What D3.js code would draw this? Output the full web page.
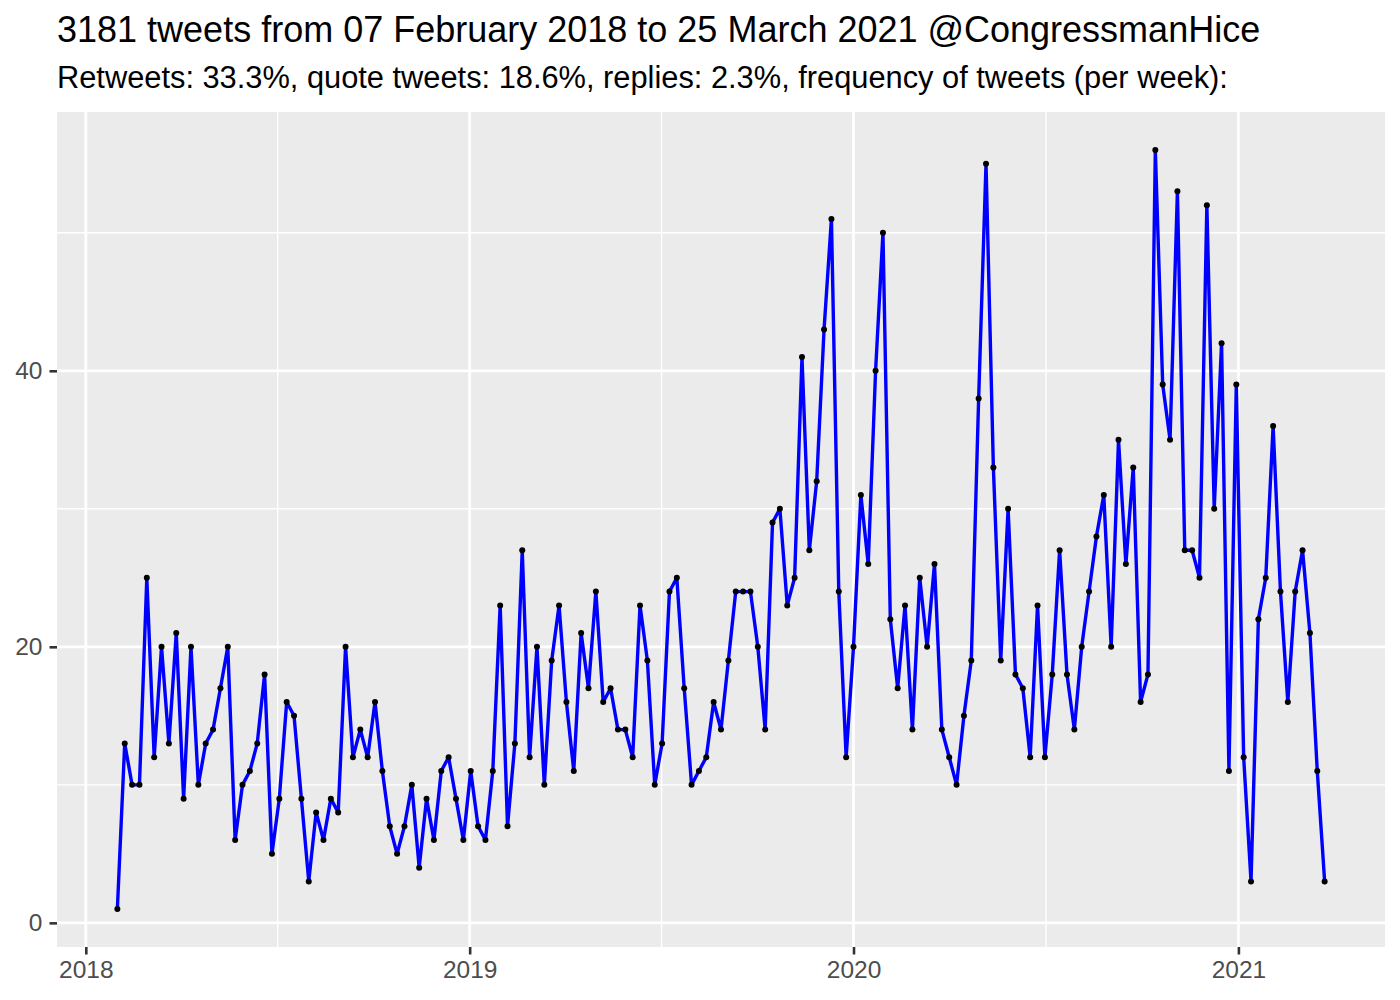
<!DOCTYPE html>
<html>
<head>
<meta charset="utf-8">
<script src="https://cdn.jsdelivr.net/npm/d3@7"></script>
<style>
  html, body { margin: 0; padding: 0; background: #ffffff; }
  svg { display: block; }
  text { font-family: "Liberation Sans", Arial, Helvetica, sans-serif; }
</style>
</head>
<body>
<svg id="chart" width="1400" height="1000"></svg>
<script>
// ---- data ----
const titleText = "3181 tweets from 07 February 2018 to 25 March 2021 @CongressmanHice";
const subtitleText = "Retweets: 33.3%, quote tweets: 18.6%, replies: 2.3%, frequency of tweets (per week):";
const firstWeek = "2018-01-31";
const weeklyCounts = [
  1, 13, 10, 10, 25, 12, 20, 13, 21, 9,
  20, 10, 13, 14, 17, 20, 6, 10, 11, 13,
  18, 5, 9, 16, 15, 9, 3, 8, 6, 9,
  8, 20, 12, 14, 12, 16, 11, 7, 5, 7,
  10, 4, 9, 6, 11, 12, 9, 6, 11, 7,
  6, 11, 23, 7, 13, 27, 12, 20, 10, 19,
  23, 16, 11, 21, 17, 24, 16, 17, 14, 14,
  12, 23, 19, 10, 13, 24, 25, 17, 10, 11,
  12, 16, 14, 19, 24, 24, 24, 20, 14, 29,
  30, 23, 25, 41, 27, 32, 43, 51, 24, 12,
  20, 31, 26, 40, 50, 22, 17, 23, 14, 25,
  20, 26, 14, 12, 10, 15, 19, 38, 55, 33,
  19, 30, 18, 17, 12, 23, 12, 18, 27, 18,
  14, 20, 24, 28, 31, 20, 35, 26, 33, 16,
  18, 56, 39, 35, 53, 27, 27, 25, 52, 30,
  42, 11, 39, 12, 3, 22, 25, 36, 24, 16,
  24, 27, 21, 11, 3
];
const yTicks = [0, 20, 40];
const yMinorTicks = [10, 30, 50];
const xTickYears = ["2018", "2019", "2020", "2021"];

// ---- build ----
const parse = d3.utcParse("%Y-%m-%d");
const start = parse(firstWeek);
const data = weeklyCounts.map((v, i) => ({ date: d3.utcDay.offset(start, 7 * i), value: v }));

const panel = { left: 57, right: 1385, top: 112, bottom: 947 };

const xExt = d3.extent(data, d => d.date);
const xSpan = xExt[1] - xExt[0];
const x = d3.scaleUtc()
  .domain([new Date(+xExt[0] - 0.05 * xSpan), new Date(+xExt[1] + 0.05 * xSpan)])
  .range([panel.left, panel.right]);

const yExt = d3.extent(data, d => d.value);
const ySpan = yExt[1] - yExt[0];
const y = d3.scaleLinear()
  .domain([yExt[0] - 0.05 * ySpan, yExt[1] + 0.05 * ySpan])
  .range([panel.bottom, panel.top]);

const svg = d3.select("#chart");

svg.append("text")
  .attr("x", 57).attr("y", 42)
  .attr("font-size", 36).attr("fill", "#000")
  .text(titleText);

svg.append("text")
  .attr("x", 57).attr("y", 88)
  .attr("font-size", 30.8).attr("fill", "#000")
  .text(subtitleText);

// panel background
svg.append("rect")
  .attr("x", panel.left).attr("y", panel.top)
  .attr("width", panel.right - panel.left).attr("height", panel.bottom - panel.top)
  .attr("fill", "#EBEBEB");

const xMajor = xTickYears.map(s => d3.utcParse("%Y")(s));
const xMinor = d3.pairs(xMajor).map(([a, b]) => new Date((+a + +b) / 2));

const grid = svg.append("g");
// minor grid
grid.selectAll("line.ymin").data(yMinorTicks).join("line")
  .attr("x1", panel.left).attr("x2", panel.right)
  .attr("y1", d => y(d)).attr("y2", d => y(d))
  .attr("stroke", "#fff").attr("stroke-width", 1.4);
grid.selectAll("line.xmin").data(xMinor).join("line")
  .attr("y1", panel.top).attr("y2", panel.bottom)
  .attr("x1", d => x(d)).attr("x2", d => x(d))
  .attr("stroke", "#fff").attr("stroke-width", 1.4);
// major grid
grid.selectAll("line.ymaj").data(yTicks).join("line")
  .attr("x1", panel.left).attr("x2", panel.right)
  .attr("y1", d => y(d)).attr("y2", d => y(d))
  .attr("stroke", "#fff").attr("stroke-width", 2.8);
grid.selectAll("line.xmaj").data(xMajor).join("line")
  .attr("y1", panel.top).attr("y2", panel.bottom)
  .attr("x1", d => x(d)).attr("x2", d => x(d))
  .attr("stroke", "#fff").attr("stroke-width", 2.8);

// axes
const yAxis = d3.axisLeft(y).tickValues(yTicks).tickSize(7.5).tickPadding(7);
const gy = svg.append("g").attr("transform", `translate(${panel.left},0)`).call(yAxis);
gy.select(".domain").remove();
gy.selectAll(".tick line").attr("stroke", "#333333").attr("stroke-width", 2.6);
gy.selectAll(".tick text").attr("fill", "#4D4D4D").attr("font-size", 24.5)
  .attr("font-family", "Liberation Sans, Arial, sans-serif");

const xAxis = d3.axisBottom(x).tickValues(xMajor).tickFormat(d3.utcFormat("%Y")).tickSize(7.5).tickPadding(6);
const gx = svg.append("g").attr("transform", `translate(0,${panel.bottom})`).call(xAxis);
gx.select(".domain").remove();
gx.selectAll(".tick line").attr("stroke", "#333333").attr("stroke-width", 2.6);
gx.selectAll(".tick text").attr("fill", "#4D4D4D").attr("font-size", 24.5)
  .attr("font-family", "Liberation Sans, Arial, sans-serif");

// line and points
const line = d3.line().x(d => x(d.date)).y(d => y(d.value));
svg.append("path")
  .datum(data)
  .attr("d", line)
  .attr("fill", "none")
  .attr("stroke", "#0000FF")
  .attr("stroke-width", 3.4)
  .attr("stroke-linejoin", "round");

svg.append("g").selectAll("circle").data(data).join("circle")
  .attr("cx", d => x(d.date)).attr("cy", d => y(d.value))
  .attr("r", 3).attr("fill", "#000");
</script>
</body>
</html>
